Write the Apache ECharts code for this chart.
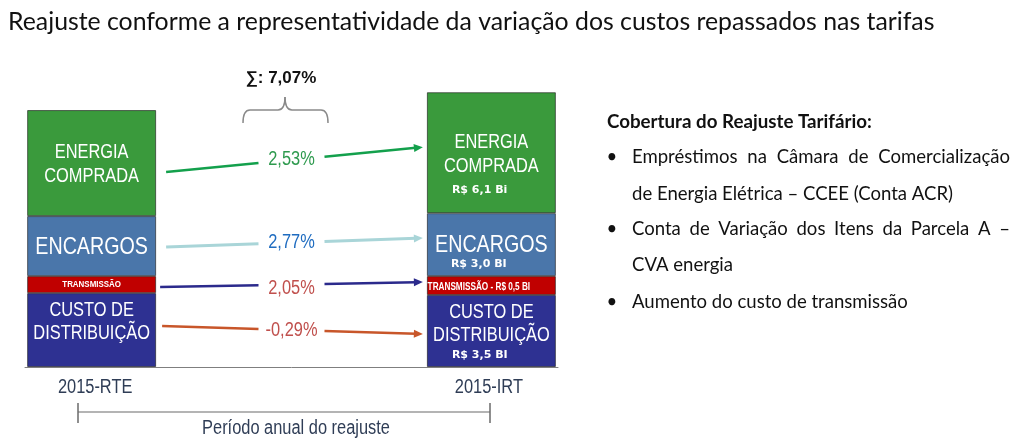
<!DOCTYPE html>
<html><head><meta charset="utf-8">
<script src="https://cdn.jsdelivr.net/npm/echarts@6/dist/echarts.min.js"></script>
<style>html,body{margin:0;padding:0;background:#fff}#c{width:1024px;height:448px}</style>
</head><body><div id="c"></div>
<script>
// ---------------- data ----------------
const title = 'Reajuste conforme a representatividade da variação dos custos repassados nas tarifas';
const categories = ['2015-RTE', '', '', '2015-IRT'];
const segmentNames = ['CUSTO DE\nDISTRIBUIÇÃO', 'TRANSMISSÃO', 'ENCARGOS', 'ENERGIA\nCOMPRADA'];
const rteValues = [3.52, 0.81, 2.86, 5.05];
const irtValues = [3.43, 0.90, 3.00, 5.76];
const irtValueLabels = ['R$ 3,5 BI', 'R$ 0,5 BI', 'R$ 3,0 BI', 'R$ 6,1 Bi'];
const variations = ['-0,29%', '2,05%', '2,77%', '2,53%'];
const totalVariation = '∑: 7,07%';
const periodLabel = 'Período anual do reajuste';
const coverageTitle = 'Cobertura do Reajuste Tarifário:';
const coverageItems = [
  ['Empréstimos na Câmara de Comercialização', 'de Energia Elétrica – CCEE (Conta ACR)'],
  ['Conta de Variação dos Itens da Parcela A –', 'CVA energia'],
  ['Aumento do custo de transmissão']
];

// ---------------- styles ----------------
const segColors = ['#2e3192', '#c00000', '#4a76aa', '#3a9a3c'];
const arrowColors = ['#c8562a', '#2b2a8c', '#a9d5d8', '#13a04c'];
const varColors = ['#c0504d', '#c0504d', '#1f6cc0', '#2e9a4e'];
const SANS = '"Liberation Sans",Arial,sans-serif';
const VALFONT = '"DejaVu Sans",Verdana,sans-serif';
const BODY = 'Lato';
const NARROW_SCALE = 0.82;
const BAR_W = 129;
const CAT_RTE = 0, CAT_IRT = 3;
const catLabelDx = {0: 3.5, 3: -2.5};

const ctx = document.createElement('canvas').getContext('2d');
function fitSize(text, width, family, weight) {
  ctx.font = (weight || 'normal') + ' 100px ' + family;
  return 100 * width / ctx.measureText(text).width;
}
function textW(text, size, family, weight) {
  ctx.font = (weight || 'normal') + ' ' + size + 'px ' + family;
  return ctx.measureText(text).width;
}

// ---------- label layout (pixel offsets from segment centre) ----------
function segLines(bar, s) {
  const names = segmentNames[s].split('\n');
  const N = (t, dx, dy, size, weight) => ({text: t, dx: dx, dy: dy, size: size, weight: weight || 'normal', family: SANS, scale: NARROW_SCALE, align: 'center'});
  const V = (t, dx, dy) => ({text: t, dx: dx, dy: dy, size: 11, weight: 'bold', family: VALFONT, scale: 1, align: 'left'});
  if (bar === 0) {
    if (s === 0) return [N(names[0], 0, -20, 20), N(names[1], 0, 3, 20)];
    if (s === 1) return [N(names[0], 0, 0, 9.7, 'bold')];
    if (s === 2) return [N(names[0], 0, 1, 24)];
    return [N(names[0], 0, -11, 20), N(names[1], 0, 13, 20)];
  }
  if (s === 0) return [N(names[0], 0, -19, 20), N(names[1], 0, 4, 20), V(irtValueLabels[0], -39.5, 24)];
  if (s === 1) return [N(names[0] + ' - ' + irtValueLabels[1], -12.5, 1.5, 10, 'bold')];
  if (s === 2) return [N(names[0], 0, 0.5, 24), V(irtValueLabels[2], -40.5, 19.5)];
  return [N(names[0], 0, -10.5, 20), N(names[1], 0, 13.5, 20), V(irtValueLabels[3], -39.5, 37.5)];
}

const barSeries = segmentNames.map((name, i) => ({
  name: name,
  type: 'bar',
  stack: 'total',
  barWidth: BAR_W,
  itemStyle: {color: segColors[i], borderColor: 'rgba(20,20,20,0.6)', borderWidth: 1},
  data: [rteValues[i], '-', '-', irtValues[i]],
  z: 2
}));

// segment label series (positions from the same stacked values)
const labelData = [];
[rteValues, irtValues].forEach((vals, b) => {
  let acc = 0;
  vals.forEach((v, s) => { labelData.push([b === 0 ? CAT_RTE : CAT_IRT, acc, acc + v, s, b]); acc += v; });
});
const labelSeries = {
  type: 'custom',
  coordinateSystem: 'cartesian2d',
  encode: {x: 0, y: 2},
  z: 6,
  silent: true,
  data: labelData,
  renderItem: function (params, api) {
    const cat = api.value(0), lo = api.value(1), hi = api.value(2), s = api.value(3), b = api.value(4);
    const c = api.coord([cat, (lo + hi) / 2]);
    const children = segLines(b, s).map(l => ({
      type: 'text', x: c[0] + l.dx, y: c[1] + l.dy, scaleX: l.scale,
      style: {text: l.text, x: 0, y: 0, fill: '#fff', font: l.weight + ' ' + l.size + 'px ' + l.family,
        align: l.align, verticalAlign: 'middle'}
    }));
    if (s === 0) {
      const base = api.coord([cat, 0]);
      children.push({type: 'text', x: base[0] + (catLabelDx[cat] || 0), y: base[1] + 20, scaleX: NARROW_SCALE,
        style: {text: categories[cat], x: 0, y: 0, fill: '#2f3d56', font: 'normal 20px ' + SANS,
          align: 'center', verticalAlign: 'middle'}});
    }
    return {type: 'group', children: children};
  }
};

function mids(vals) { let acc = 0; return vals.map(v => { const m = acc + v / 2; acc += v; return m; }); }
const rteMid = mids(rteValues), irtMid = mids(irtValues);
const arrowTweak = [
  {sx: 6, sy: -4, ey: 3, ly: 0},
  {sx: 4, sy: 2.5, ey: -3.5, ly: 3.5},
  {sx: 10, sy: 1, ey: -6.5, ly: 0},
  {sx: 10, sy: 9, ey: -5.5, ly: 0}
];

const arrowSeries = {
  type: 'custom',
  coordinateSystem: 'cartesian2d',
  encode: {x: 0, y: 1},
  z: 5,
  silent: true,
  data: variations.map((t, i) => [CAT_RTE, rteMid[i], irtMid[i]]),
  renderItem: function (params, api) {
    const i = params.dataIndex;
    const tw = arrowTweak[i];
    const L = api.coord([CAT_RTE, api.value(1)]);
    const R = api.coord([CAT_IRT, api.value(2)]);
    const half = BAR_W / 2;
    const x1 = L[0] + half + tw.sx, y1 = L[1] + tw.sy;
    const x2 = R[0] - half - 4, y2 = R[1] + tw.ey;
    const mx = (L[0] + half + R[0] - half) / 2;
    const yAt = x => y1 + (y2 - y1) * (x - x1) / (x2 - x1);
    const g1 = mx - 33, g2 = mx + 33;
    const len = Math.hypot(x2 - x1, y2 - y1);
    const ux = (x2 - x1) / len, uy = (y2 - y1) / len;
    const hl = 9, hw = 4;
    const bx = x2 - ux * hl, by = y2 - uy * hl;
    const lw = i === 2 ? 3 : 2.5;
    const col = arrowColors[i];
    return {
      type: 'group',
      children: [
        {type: 'line', shape: {x1: x1, y1: y1, x2: g1, y2: yAt(g1)}, style: {stroke: col, lineWidth: lw}},
        {type: 'line', shape: {x1: g2, y1: yAt(g2), x2: bx + ux * 2, y2: by + uy * 2}, style: {stroke: col, lineWidth: lw}},
        {type: 'polygon', shape: {points: [[x2, y2], [bx - uy * hw, by + ux * hw], [bx + uy * hw, by - ux * hw]]}, style: {fill: col}},
        {type: 'text', x: mx, y: yAt(mx) + tw.ly, scaleX: NARROW_SCALE,
          style: {text: variations[i], x: 0, y: 0, fill: varColors[i],
          font: 'normal 20px ' + SANS, align: 'center', verticalAlign: 'middle'}}
      ]
    };
  }
};

// ---------------- right text block ----------------
const bodySize = fitSize(coverageItems[2][0], 276, BODY);
const headSize = fitSize(coverageTitle, 265, BODY, 'bold');
const titleSize = fitSize(title, 927, BODY);
const graphics = [];
graphics.push({type: 'text', x: 8, y: 22,
  style: {text: title, font: 'normal ' + titleSize + 'px ' + BODY, fill: '#111', verticalAlign: 'middle'}});
graphics.push({type: 'text', x: 607, y: 122,
  style: {text: coverageTitle, font: 'bold ' + headSize + 'px ' + BODY, fill: '#111', verticalAlign: 'middle'}});
const lineYs = [[157, 194], [229, 265], [302]];
const TX = 632, TR = 1010;
coverageItems.forEach((lines, k) => {
  graphics.push({type: 'text', x: 612, y: lineYs[k][0],
    style: {text: '•', font: 'normal ' + bodySize + 'px ' + BODY, fill: '#111', align: 'center', verticalAlign: 'middle'}});
  lines.forEach((ln, j) => {
    const y = lineYs[k][j];
    const justify = lines.length > 1 && j === 0;
    if (!justify) {
      graphics.push({type: 'text', x: TX, y: y,
        style: {text: ln, font: 'normal ' + bodySize + 'px ' + BODY, fill: '#111', verticalAlign: 'middle'}});
    } else {
      const words = ln.split(' ');
      const ws = words.map(w => textW(w, bodySize, BODY));
      const total = ws.reduce((a, b) => a + b, 0);
      const gap = (TR - TX - total) / (words.length - 1);
      let x = TX;
      words.forEach((w, q) => {
        graphics.push({type: 'text', x: x, y: y,
          style: {text: w, font: 'normal ' + bodySize + 'px ' + BODY, fill: '#111', verticalAlign: 'middle'}});
        x += ws[q] + gap;
      });
    }
  });
});

// sum brace
graphics.push({type: 'text', x: 281, y: 78,
  style: {text: totalVariation, font: 'bold 17px ' + SANS, fill: '#111', align: 'center', verticalAlign: 'middle'}});
const braceStyle = {stroke: '#8a8a8a', lineWidth: 1.5, fill: null};
graphics.push({type: 'bezierCurve', shape: {x1: 243, y1: 123, cpx1: 243, cpy1: 110, x2: 250, y2: 110}, style: braceStyle});
graphics.push({type: 'line', shape: {x1: 250, y1: 110, x2: 278, y2: 110}, style: braceStyle});
graphics.push({type: 'bezierCurve', shape: {x1: 278, y1: 110, cpx1: 285, cpy1: 110, x2: 285, y2: 97}, style: braceStyle});
graphics.push({type: 'bezierCurve', shape: {x1: 285, y1: 97, cpx1: 285, cpy1: 110, x2: 292, y2: 110}, style: braceStyle});
graphics.push({type: 'line', shape: {x1: 292, y1: 110, x2: 321, y2: 110}, style: braceStyle});
graphics.push({type: 'bezierCurve', shape: {x1: 321, y1: 110, cpx1: 328, cpy1: 110, x2: 328, y2: 123}, style: braceStyle});
// period line
graphics.push({type: 'line', shape: {x1: 78, y1: 412, x2: 490, y2: 412}, style: {stroke: '#6a6a6a', lineWidth: 1.2}});
graphics.push({type: 'line', shape: {x1: 78, y1: 403, x2: 78, y2: 423}, style: {stroke: '#6a6a6a', lineWidth: 1.5}});
graphics.push({type: 'line', shape: {x1: 490, y1: 403, x2: 490, y2: 423}, style: {stroke: '#6a6a6a', lineWidth: 1.5}});
graphics.push({type: 'text', x: 296, y: 428, scaleX: NARROW_SCALE,
  style: {text: periodLabel, x: 0, y: 0, font: 'normal 20px ' + SANS, fill: '#2f3d56', align: 'center', verticalAlign: 'middle'}});

const chart = echarts.init(document.getElementById('c'), null, {renderer: 'canvas'});
chart.setOption({
  animation: false,
  backgroundColor: '#fff',
  grid: {left: 25, right: 466, top: 92, bottom: 81, containLabel: false},
  xAxis: {
    type: 'category', data: categories,
    axisLine: {lineStyle: {color: '#7f7f7f', width: 1}},
    axisTick: {show: false},
    axisLabel: {show: false}
  },
  yAxis: {type: 'value', min: 0, max: 13.1, show: false, splitLine: {show: false}},
  series: barSeries.concat([arrowSeries, labelSeries]),
  graphic: graphics
});
</script></body></html>
